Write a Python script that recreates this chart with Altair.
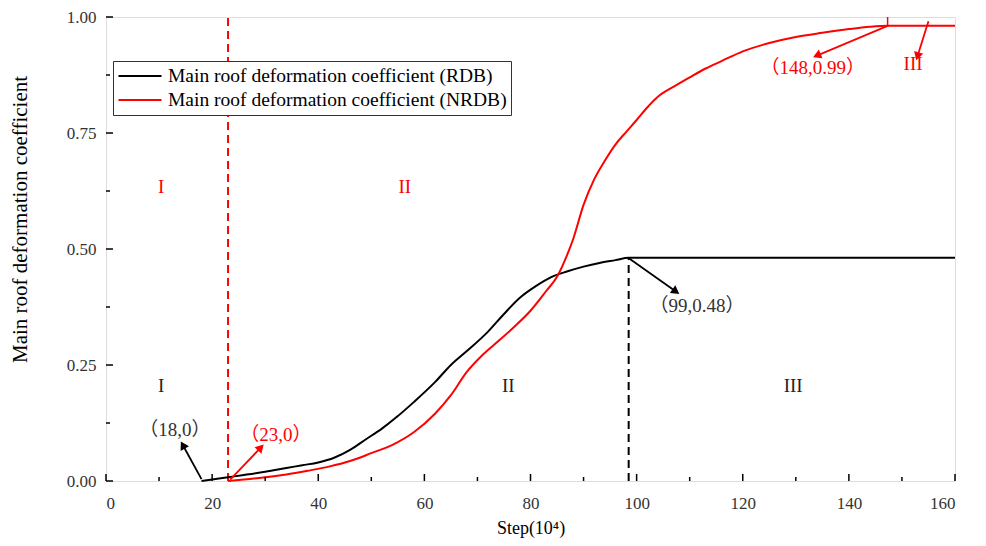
import math
import altair as alt
import pandas as pd

# ---- data ----
rdb_step = [18, 20, 23, 26, 30, 34, 37, 40, 43, 46, 49, 52, 55, 58, 62, 65, 68, 72, 75, 78,
            81, 84, 87, 90, 93, 96, 98.5, 110, 130, 160]
rdb_val = [0, 0.003, 0.008, 0.013, 0.02, 0.028, 0.034, 0.040, 0.05, 0.067, 0.09, 0.113, 0.14,
           0.17, 0.213, 0.25, 0.28, 0.322, 0.36, 0.395, 0.42, 0.44, 0.452, 0.462, 0.47, 0.476,
           0.481, 0.481, 0.481, 0.481]

nrdb_step = [23, 26, 30, 34, 38, 42, 46, 50, 54, 58, 62, 65, 68, 71, 74, 77, 80, 83, 85, 87,
             88, 90, 92, 94, 96, 98, 100, 102, 104, 107, 110, 113, 116, 120, 125, 130, 135,
             140, 144, 147.3, 160]
nrdb_val = [0, 0.003, 0.008, 0.014, 0.022, 0.031, 0.043, 0.06, 0.078, 0.105, 0.145, 0.185,
            0.235, 0.272, 0.302, 0.333, 0.367, 0.41, 0.44, 0.49, 0.52, 0.595, 0.65, 0.69, 0.725,
            0.752, 0.778, 0.805, 0.828, 0.85, 0.87, 0.889, 0.905, 0.926, 0.944, 0.957, 0.966,
            0.974, 0.979, 0.981, 0.981]

series_names = ["Main roof deformation coefficient (RDB)",
                "Main roof deformation coefficient (NRDB)"]
series_colors = ["#000000", "#ff0000"]

# annotation texts
ann_text = ["（18,0）", "（23,0）", "（99,0.48）", "（148,0.99）", "III",
            "I", "II", "I", "II", "III"]
ann_x = [13.0, 32.0, 111.4, 133.2, 152.1, 10.4, 56.3, 10.4, 75.8, 129.5]
ann_y = [0.109, 0.099, 0.378, 0.891, 0.899, 0.633, 0.633, 0.204, 0.204, 0.204]
ann_color = ["#333333", "#ff0000", "#333333", "#ff0000", "#ff0000",
             "#ff0000", "#ff0000", "#222222", "#222222", "#222222"]

# arrows (start -> tip)
arr_x1 = [18.0, 23.4, 98.4, 147.3, 155.0]
arr_y1 = [0.004, 0.003, 0.481, 0.981, 0.991]
arr_x2 = [14.6, 29.0, 107.2, 134.2, 153.0]
arr_y2 = [0.075, 0.070, 0.41, 0.918, 0.918]
arr_color = ["#000000", "#ff0000", "#000000", "#ff0000", "#ff0000"]

# vertical reference lines
vline_x = [23, 98.5]
vline_y0 = [0, 0]
vline_y1 = [1.0, 0.481]
vline_color = ["#ff0000", "#000000"]

# small mark at (148, 0.99)
mark_x = [147.3]
mark_y0 = [0.981]
mark_y1 = [1.0]

x_major = [0, 20, 40, 60, 80, 100, 120, 140, 160]
x_minor = [10, 30, 50, 70, 90, 110, 130, 150]
y_major = [0, 0.25, 0.5, 0.75, 1.0]
y_minor = [0.125, 0.375, 0.625, 0.875]

W, H = 849, 464
KX, KY = W / 160.0, H / 1.0

serif = "Liberation Serif"
cjk_serif = "Liberation Serif, Noto Sans CJK SC"

xs = alt.Scale(domain=[0, 160], nice=False, zero=False)
ys = alt.Scale(domain=[0, 1], nice=False)

lines_df = pd.DataFrame(
    [{"step": s, "val": v, "series": series_names[0], "o": i} for i, (s, v) in enumerate(zip(rdb_step, rdb_val))]
    + [{"step": s, "val": v, "series": series_names[1], "o": i} for i, (s, v) in enumerate(zip(nrdb_step, nrdb_val))]
)

lines = alt.Chart(lines_df).mark_line(strokeWidth=2, interpolate="monotone").encode(
    x=alt.X("step:Q", scale=xs,
            axis=alt.Axis(title="Step(10⁴)", values=x_major, format="d", ticks=False,
                          domain=False, grid=False, labelFont=serif, labelFontSize=17,
                          labelColor="#333333", labelPadding=14, titleFont=serif,
                          titleFontSize=18, titleFontWeight="normal", titleColor="#000000",
                          titleY=47, titleBaseline="middle")),
    y=alt.Y("val:Q", scale=ys,
            axis=alt.Axis(title="Main roof deformation coefficient", values=y_major,
                          format=".2f", ticks=False, domain=False, grid=False,
                          labelFont=serif, labelFontSize=17, labelColor="#333333",
                          labelPadding=10, titleFont=serif, titleFontSize=21,
                          titleFontWeight="normal", titleColor="#000000",
                          titleX=-86, titleY=H / 2 - 30, titleAngle=-90, titleAlign="center",
                          titleBaseline="middle")),
    color=alt.Color("series:N",
                    scale=alt.Scale(domain=series_names, range=series_colors),
                    legend=alt.Legend(title=None, orient="none", legendX=7, legendY=44,
                                      direction="vertical", symbolType="stroke",
                                      symbolStrokeWidth=2, symbolSize=1850,
                                      labelFont=serif, labelFontSize=19.5,
                                      labelColor="#000000", labelLimit=600,
                                      labelOffset=5, rowPadding=2, clipHeight=22,
                                      strokeColor="#333333", fillColor="#ffffff",
                                      padding=4)),
    order="o:Q",
)

vdf = pd.DataFrame({"x": vline_x, "y0": vline_y0, "y1": vline_y1, "c": vline_color})
vlines = alt.Chart(vdf).mark_rule(strokeWidth=2, strokeDash=[8, 5]).encode(
    x=alt.X("x:Q", scale=xs), y=alt.Y("y0:Q", scale=ys), y2="y1:Q",
    color=alt.Color("c:N", scale=None),
)

mdf = pd.DataFrame({"x": mark_x, "y0": mark_y0, "y1": mark_y1})
small_mark = alt.Chart(mdf).mark_rule(strokeWidth=1.5, color="#ff0000").encode(
    x=alt.X("x:Q", scale=xs), y=alt.Y("y0:Q", scale=ys), y2="y1:Q",
)

adf = pd.DataFrame({"x1": arr_x1, "y1": arr_y1, "x2": arr_x2, "y2": arr_y2, "c": arr_color})
adf["ang"] = [
    (math.degrees(math.atan2((b - a) * KX, (d - c) * KY)) + 360) % 360
    for a, b, c, d in zip(arr_x1, arr_x2, arr_y1, arr_y2)
]
arrow_lines = alt.Chart(adf).mark_rule(strokeWidth=1.8).encode(
    x=alt.X("x1:Q", scale=xs), y=alt.Y("y1:Q", scale=ys), x2="x2:Q", y2="y2:Q",
    color=alt.Color("c:N", scale=None),
)
arrow_heads = alt.Chart(adf).mark_point(shape="triangle", filled=True, size=90, opacity=1).encode(
    x=alt.X("x2:Q", scale=xs), y=alt.Y("y2:Q", scale=ys),
    angle=alt.Angle("ang:Q", scale=None),
    color=alt.Color("c:N", scale=None),
)

tdf = pd.DataFrame({"x": ann_x, "y": ann_y, "t": ann_text, "c": ann_color})
texts = alt.Chart(tdf).mark_text(font=cjk_serif, fontSize=19, align="center", baseline="middle").encode(
    x=alt.X("x:Q", scale=xs), y=alt.Y("y:Q", scale=ys), text="t:N",
    color=alt.Color("c:N", scale=None),
)

# inward ticks
xmaj = alt.Chart(pd.DataFrame({"t": x_major})).mark_rule(color="black", strokeWidth=1.5).encode(
    x=alt.X("t:Q", scale=xs), y=alt.value(H), y2=alt.value(H - 7))
xmin = alt.Chart(pd.DataFrame({"t": x_minor})).mark_rule(color="black", strokeWidth=1.5).encode(
    x=alt.X("t:Q", scale=xs), y=alt.value(H), y2=alt.value(H - 4))
ymaj = alt.Chart(pd.DataFrame({"t": y_major})).mark_rule(color="black", strokeWidth=1.5).encode(
    y=alt.Y("t:Q", scale=ys), x=alt.value(0), x2=alt.value(7))
ymin = alt.Chart(pd.DataFrame({"t": y_minor})).mark_rule(color="black", strokeWidth=1.5).encode(
    y=alt.Y("t:Q", scale=ys), x=alt.value(0), x2=alt.value(4))

chart = alt.layer(
    vlines, lines, small_mark, arrow_lines, arrow_heads, texts, xmaj, xmin, ymaj, ymin
).properties(
    width=W, height=H,
    autosize=alt.AutoSizeParams(type="none"),
    padding={"left": 98, "top": 9, "right": 22, "bottom": 57},
).configure_view(stroke="#000000", strokeWidth=2).configure(background="white")

chart.save("out.html", embed_options={"renderer": "svg", "actions": False})
